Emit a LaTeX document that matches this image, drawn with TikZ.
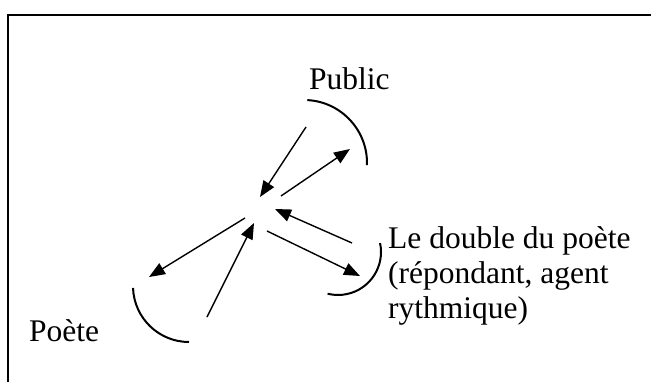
\documentclass[tikz,border=0pt]{standalone}
\usepackage{fontspec}
\setmainfont{Liberation Serif}
\usetikzlibrary{arrows.meta}
\begin{document}
\begin{tikzpicture}[x=1pt,y=1pt,
  lbl/.style={inner sep=0pt,anchor=base west,font=\fontsize{31.5}{35}\selectfont},
  conn/.style={line width=1.4pt,-{Triangle[length=16pt,width=12.5pt]}},
  bow/.style={line width=2pt},
  frame/.style={line width=2pt}]
\useasboundingbox (0,0) rectangle (651,381);
% frame (only top and left edges visible)
\draw[frame] (8,-5) -- (8,366) -- (660,366);
% labels
\node[lbl] (public) at (309,291) {Public};
\node[lbl] (poete) at (29,40) {Poète};
\node[lbl,align=left] (double) at (388,63) {Le double du poète\\(répondant, agent\\rythmique)};
% arc centres
\coordinate (pc) at (304,218);
\coordinate (dc) at (338,129);
\coordinate (oc) at (189,95);
% arcs
\draw[bow] ([shift={(87:63)}]pc) arc (87:-2:63);
\draw[bow] ([shift={(12:43)}]dc) arc (12:-104:43);
\draw[bow] ([shift={(182:56)}]oc) arc (182:270:56);
% arrow end points
\coordinate (a1s) at (306,254); \coordinate (a1e) at (260,184);
\coordinate (a2s) at (281,185); \coordinate (a2e) at (350,232);
\coordinate (a3s) at (352,138); \coordinate (a3e) at (275,172);
\coordinate (a4s) at (267,150); \coordinate (a4e) at (360,105);
\coordinate (a5s) at (245,163); \coordinate (a5e) at (149,104);
\coordinate (a6s) at (207,64);  \coordinate (a6e) at (254,158);
\draw[conn] (a1s) -- (a1e);
\draw[conn] (a2s) -- (a2e);
\draw[conn] (a3s) -- (a3e);
\draw[conn] (a4s) -- (a4e);
\draw[conn] (a5s) -- (a5e);
\draw[conn] (a6s) -- (a6e);
\end{tikzpicture}
\end{document}
